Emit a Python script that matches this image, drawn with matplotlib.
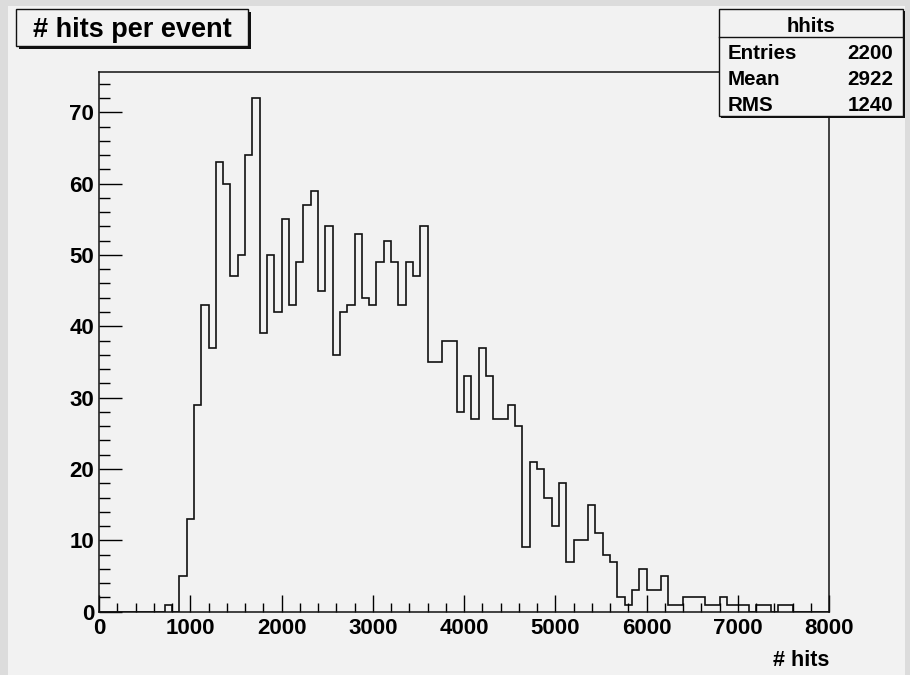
"""
ROOT-style histogram of the number of hits per event (hhits).
"""

import numpy as np
import matplotlib
matplotlib.use("Agg")
import matplotlib.pyplot as plt
from matplotlib.patches import Rectangle
from matplotlib.ticker import MultipleLocator

plt.rcParams['font.family'] = ['Liberation Sans', 'DejaVu Sans']
plt.rcParams['font.weight'] = 'bold'

# histogram hhits: 100 bins from 0 to 8000
n_bins = 100
x_min, x_max = 0, 8000
counts = [
    0, 0, 0, 0, 0, 0, 0, 0, 0, 1,
    0, 5, 13, 29, 43, 37, 63, 60, 47, 50,
    64, 72, 39, 50, 42, 55, 43, 49, 57, 59,
    45, 54, 36, 42, 43, 53, 44, 43, 49, 52,
    49, 43, 49, 47, 54, 35, 35, 38, 38, 28,
    33, 27, 37, 33, 27, 27, 29, 26, 9, 21,
    20, 16, 12, 18, 7, 10, 10, 15, 11, 8,
    7, 2, 1, 3, 6, 3, 3, 5, 1, 1,
    2, 2, 2, 1, 1, 2, 1, 1, 1, 0,
    1, 1, 0, 1, 1, 0, 0, 0, 0, 0,
]

title = "# hits per event"
x_title = "# hits"
stats_name = "hhits"
stats_labels = ["Entries", "Mean", "RMS"]
stats_values = ["2200", "2922", "1240"]

W, H = 910, 675
PAD_COLOR = '#f2f2f2'


def fig_rect(x0, y0, x1, y1):
    """pixel box (top-left origin) -> figure fraction (x, y, w, h)"""
    return x0 / W, 1 - y1 / H, (x1 - x0) / W, (y1 - y0) / H


def fx(x):
    return x / W


def fy(y):
    return 1 - y / H


def add_box(fig, x0, y0, x1, y1, shadow=3):
    bx, by, bw, bh = fig_rect(x0 + shadow, y0 + shadow, x1 + shadow, y1 + shadow)
    fig.patches.append(Rectangle((bx, by), bw, bh, transform=fig.transFigure,
                                 facecolor='#111111', edgecolor='none', zorder=2))
    bx, by, bw, bh = fig_rect(x0, y0, x1, y1)
    fig.patches.append(Rectangle((bx, by), bw, bh, transform=fig.transFigure,
                                 facecolor=PAD_COLOR, edgecolor='#111111',
                                 linewidth=1.0, zorder=2.1))


fig = plt.figure(figsize=(W / 100, H / 100), dpi=100, facecolor='#dcdcdc')

# inner pad
bx, by, bw, bh = fig_rect(8, 6, 905, 675)
fig.patches.append(Rectangle((bx, by), bw, bh, transform=fig.transFigure,
                             facecolor=PAD_COLOR, edgecolor='none', zorder=-1))

ax = fig.add_axes(fig_rect(99, 72.3, 829, 611.7))
ax.set_facecolor(PAD_COLOR)

edges = np.linspace(x_min, x_max, n_bins + 1)
ax.stairs(counts, edges, color='#111111', linewidth=1.2, baseline=0)

ax.set_xlim(x_min, x_max)
ax.set_ylim(0, 1.05 * max(counts))

ax.xaxis.set_major_locator(MultipleLocator(1000))
ax.xaxis.set_minor_locator(MultipleLocator(200))
ax.yaxis.set_major_locator(MultipleLocator(10))
ax.yaxis.set_minor_locator(MultipleLocator(2))

ax.tick_params(axis='x', which='major', direction='in', length=12, width=1,
               pad=4.5, labelsize=16, top=False)
ax.tick_params(axis='x', which='minor', direction='in', length=6.5, width=1, top=False)
ax.tick_params(axis='y', which='major', direction='in', length=16.5, width=1,
               pad=3.5, labelsize=16, right=False)
ax.tick_params(axis='y', which='minor', direction='in', length=8, width=1, right=False)
for lab in ax.get_xticklabels() + ax.get_yticklabels():
    lab.set_fontweight('bold')

for sp in ax.spines.values():
    sp.set_color('#111111')
    sp.set_linewidth(1.1)

# axis title, right aligned under the axis
fig.text(fx(829), fy(666.5), x_title, ha='right', va='baseline',
         fontsize=15.5, fontweight='bold', zorder=3)

# title box
add_box(fig, 16, 9, 248, 46)
fig.text(fx(132), fy(37.3), title, ha='center', va='baseline',
         fontsize=19.5, fontweight='bold', zorder=3)

# stats box
add_box(fig, 719, 9, 903, 116, shadow=2)
fig.lines.append(plt.Line2D([fx(719), fx(903)], [fy(36.7), fy(36.7)],
                            transform=fig.transFigure, color='#111111',
                            linewidth=1.0, zorder=2.2))
fig.text(fx(811), fy(31.5), stats_name, ha='center', va='baseline',
         fontsize=14.8, fontweight='bold', zorder=3)
for i, (lab, val) in enumerate(zip(stats_labels, stats_values)):
    base = 59.3 + i * 26
    fig.text(fx(728), fy(base), lab, ha='left', va='baseline',
             fontsize=14.8, fontweight='bold', zorder=3)
    fig.text(fx(893), fy(base), val, ha='right', va='baseline',
             fontsize=14.8, fontweight='bold', zorder=3)

fig.savefig("out.png", dpi=100, facecolor=fig.get_facecolor())
plt.close(fig)
